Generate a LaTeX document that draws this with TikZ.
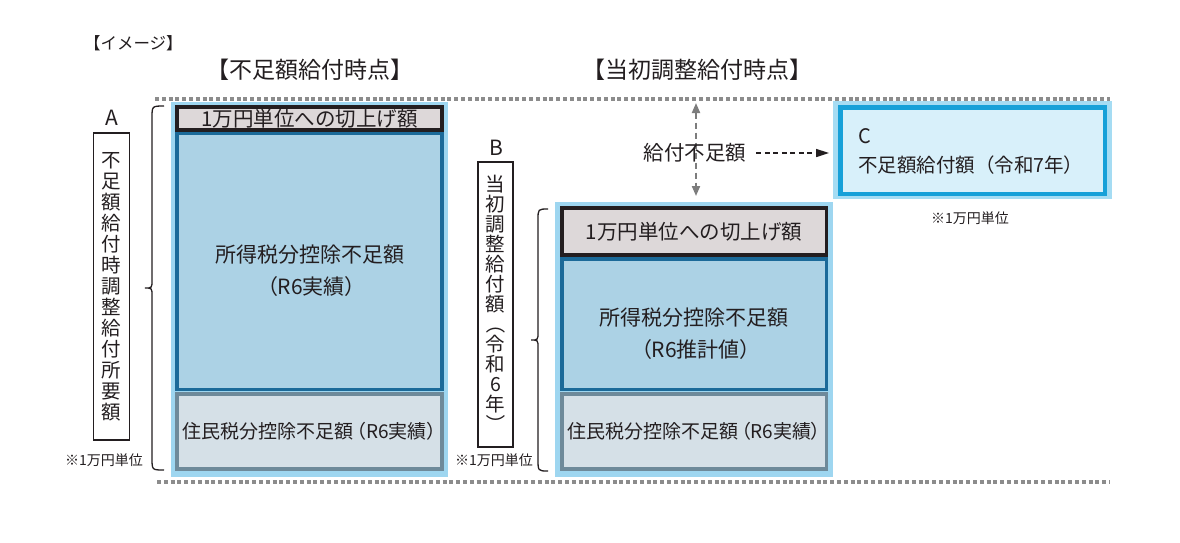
\documentclass[tikz,border=0pt]{standalone}
\usepackage{fontspec}
\usepackage{graphicx}
\setmainfont{Noto Sans CJK JP}
\newfontfamily\paltfont[RawFeature=+palt]{Noto Sans CJK JP}
\usetikzlibrary{arrows.meta}
\definecolor{frameblue}{RGB}{158,214,240}
\definecolor{midfill}{RGB}{172,210,229}
\definecolor{midline}{RGB}{27,106,153}
\definecolor{topfill}{RGB}{221,216,217}
\definecolor{topline}{RGB}{35,30,32}
\definecolor{botfill}{RGB}{213,224,231}
\definecolor{botline}{RGB}{110,138,154}
\definecolor{cfill}{RGB}{216,240,250}
\definecolor{cline}{RGB}{22,160,216}
\definecolor{cframe}{RGB}{165,220,243}
\definecolor{dotgray}{RGB}{140,140,140}
\definecolor{arrgray}{RGB}{125,125,125}
\definecolor{txt}{RGB}{35,30,32}
\newcommand\jfs[2]{\fontsize{#1pt}{#2pt}\selectfont}
\newcommand\jlp{\,{\paltfont （}}
\newcommand\jrp{{\paltfont ）}}
\newcommand\vlp{\rotatebox[origin=c]{-90}{（}}
\newcommand\vrp{\rotatebox[origin=c]{-90}{）}}
\begin{document}
\begin{tikzpicture}[x=1pt,y=-1pt,
  every node/.style={inner sep=0pt,outer sep=0pt,text=txt},
  frame/.style={fill=frameblue,draw=none},
  topbox/.style={fill=topfill,draw=topline,line width=3.5pt},
  midbox/.style={fill=midfill,draw=midline,line width=3.5pt},
  botbox/.style={fill=botfill,draw=botline,line width=3.5pt,font=\jfs{19}{22}},
  midtext/.style={align=center,font=\jfs{21}{32}},
  vbox/.style={fill=white,draw=txt,line width=1.4pt,align=center},
  letter/.style={font=\jfs{21}{24}},
  heading/.style={font=\jfs{23}{26}},
  note/.style={font=\jfs{14}{16}},
  bracestyle/.style={draw=txt,line width=1.3pt},
  dotline/.style={draw=dotgray,line width=3.5pt,dash pattern=on 4pt off 2.8pt},
  vgap/.style={draw=arrgray,line width=2pt,dash pattern=on 6pt off 4pt,
    {Triangle[length=10pt,width=8pt]}-{Triangle[length=10pt,width=8pt]}},
  harrow/.style={draw=txt,line width=1.6pt,dash pattern=on 5pt off 3.5pt,
    -{Triangle[length=13pt,width=8pt]}},
  cframestyle/.style={fill=cframe,draw=none},
  cbox/.style={fill=cfill,draw=cline,line width=4.5pt}]
\useasboundingbox (0,0) rectangle (1180,542);
\fill[white] (0,0) rectangle (1180,542);

% titles
\node[anchor=west,font=\jfs{16.5}{18}] (image) at (84,43) {【イメージ】};
\node[heading] (h1) at (310,70) {【不足額給付時点】};
\node[heading] (h2) at (697,70) {【当初調整給付時点】};

% dotted lines
\coordinate (dt1) at (155,99);
\coordinate (dt2) at (1110,99);
\coordinate (db1) at (157,482);
\coordinate (db2) at (1110,482);
\draw[dotline] (dt1) -- (dt2);
\draw[dotline] (db1) -- (db2);

% left stack
\node[frame,minimum width=277pt,minimum height=375pt] (frameA) at (309.5,289.5) {};
\node[topbox,minimum width=265pt,minimum height=23pt,font=\jfs{20.5}{24}] (topA) at (309.5,118.5) {1万円単位への切上げ額};
\node[midbox,minimum width=265pt,minimum height=256pt] (midA) at (309.5,261.5) {};
\node[midtext] (midAt) at (309.5,271) {所得税分控除不足額\\\jlp R6実績\jrp};
\node[botbox,minimum width=265pt,minimum height=75pt] (botA) at (309.5,431.5) {住民税分控除不足額\jlp R6実績\jrp};

% A label and box
\node[letter] (lblA) at (112,118) {A};
\node[vbox,minimum width=36pt,minimum height=307pt,font=\jfs{19.5}{21}] (boxA) at (111.5,286.5)
  {不\\足\\額\\給\\付\\時\\調\\整\\給\\付\\所\\要\\額};
\node[note] (noteA) at (104,460) {※1万円単位};
\draw[bracestyle] (164,106) .. controls (152,106) .. (152,118) -- (152,280)
  .. controls (152,288) .. (145,288) .. controls (152,288) .. (152,296)
  -- (152,458) .. controls (152,470) .. (164,470);

% right stack
\node[frame,minimum width=278pt,minimum height=275pt] (frameB) at (694,339.5) {};
\node[topbox,minimum width=264.5pt,minimum height=47pt,font=\jfs{20.5}{24}] (topB) at (694,231.5) {1万円単位への切上げ額};
\node[midbox,minimum width=264.5pt,minimum height=130.5pt] (midB) at (694,324.25) {};
\node[midtext] (midBt) at (694,334) {所得税分控除不足額\\\jlp R6推計値\jrp};
\node[botbox,minimum width=264.5pt,minimum height=75pt] (botB) at (694,431.5) {住民税分控除不足額\jlp R6実績\jrp};

% B label and box
\node[letter] (lblB) at (496,148) {B};
\node[vbox,minimum width=35pt,minimum height=285pt,font=\jfs{19.5}{20}] (boxB) at (495.5,304.5)
  {当\\初\\調\\整\\給\\付\\額\\\vlp\\令\\和\\6\\年\\\vrp};
\node[note] (noteB) at (494,460) {※1万円単位};
\draw[bracestyle] (548,209) .. controls (538,209) .. (538,220) -- (538,332)
  .. controls (538,340) .. (531,340) .. controls (538,340) .. (538,348)
  -- (538,459) .. controls (538,471) .. (548,471);

% gap arrow and label
\coordinate (vtop) at (696,103);
\coordinate (vbot) at (696,196);
\draw[vgap] (vtop) -- (vbot);
\node[font=\jfs{20.5}{24}] (gap) at (695,153) {給付不足額};

% C box
\node[cframestyle,minimum width=279pt,minimum height=98pt] (frameC) at (972.5,150) {};
\node[cbox,minimum width=264.5pt,minimum height=86.5pt] (boxC) at (972.5,150.5) {};
\node[anchor=west,font=\jfs{20}{24}] (lblC) at (858,136) {C};
\node[anchor=west,font=\jfs{19.5}{22}] (textC) at (858,165) {不足額給付額（令和7年）};
\node[note] (noteC) at (970,218) {※1万円単位};

\draw[harrow] ([xshift=10pt]gap.east) -- ([xshift=-4pt]frameC.west |- gap.east);
\end{tikzpicture}
\end{document}
